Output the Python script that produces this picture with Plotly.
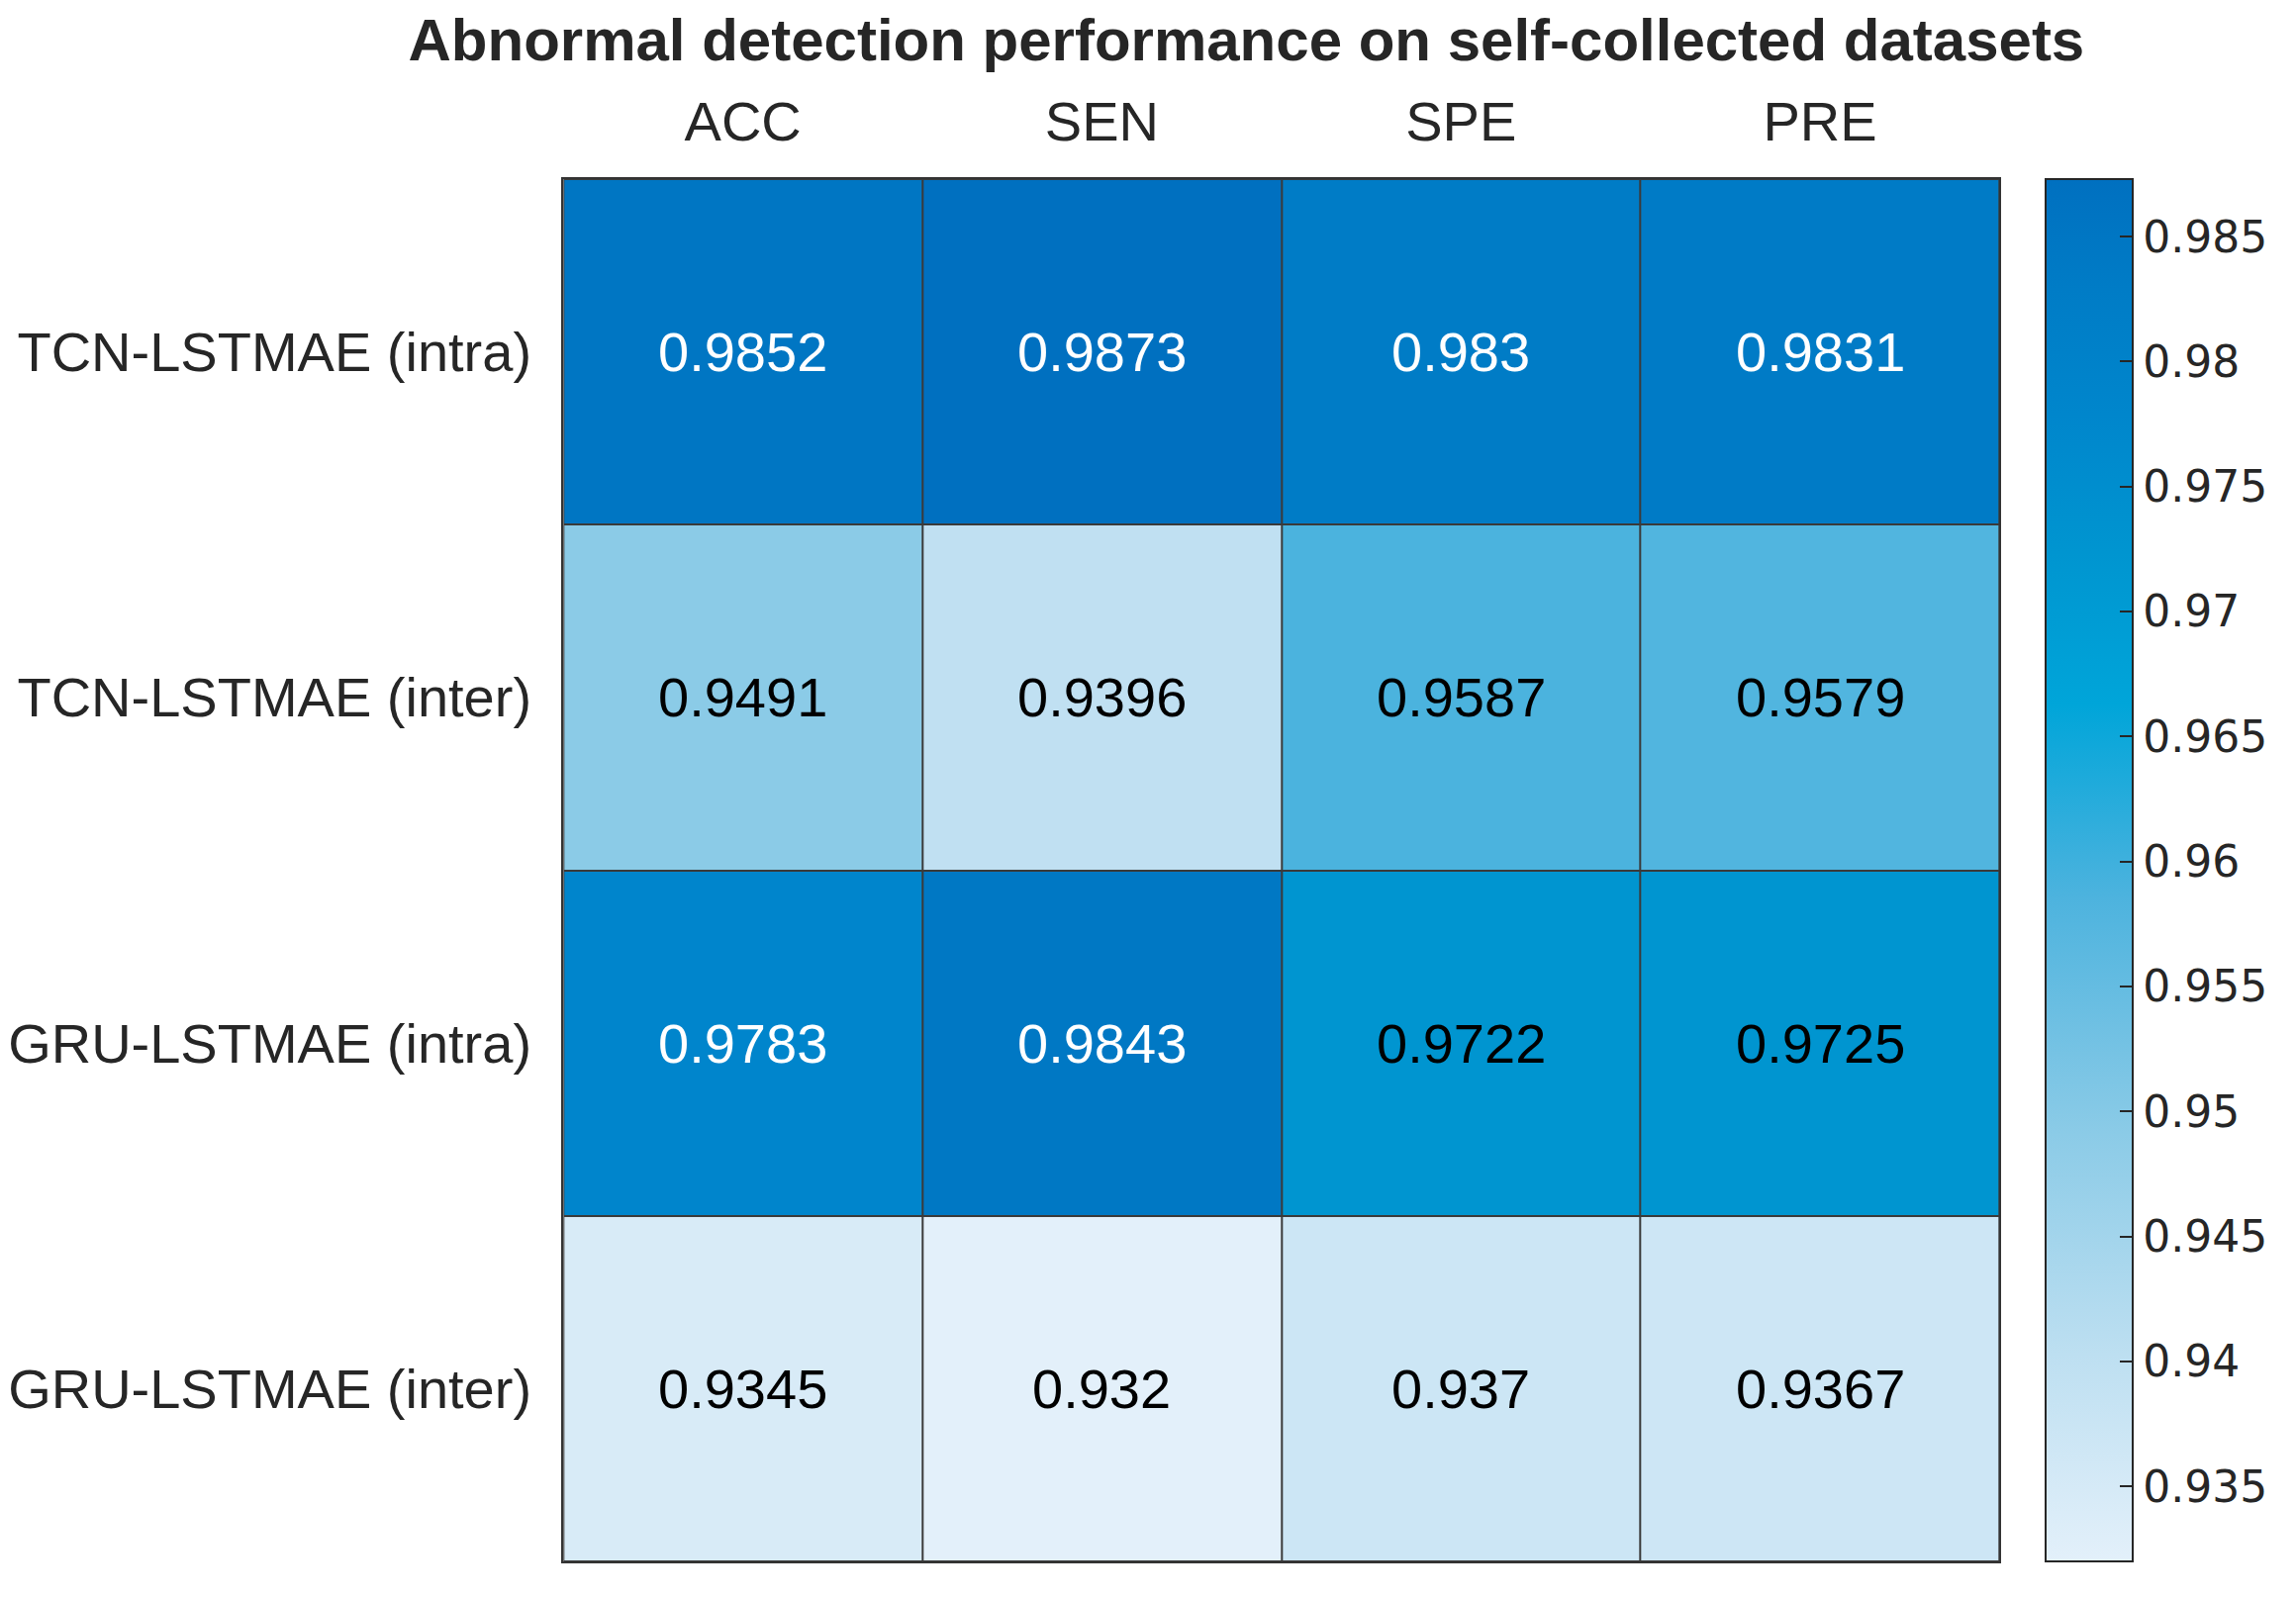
import plotly.graph_objects as go

metrics = ["ACC", "SEN", "SPE", "PRE"]
models = ["TCN-LSTMAE (intra)", "TCN-LSTMAE (inter)", "GRU-LSTMAE (intra)", "GRU-LSTMAE (inter)"]
values = [
    [0.9852, 0.9873, 0.9830, 0.9831],
    [0.9491, 0.9396, 0.9587, 0.9579],
    [0.9783, 0.9843, 0.9722, 0.9725],
    [0.9345, 0.9320, 0.9370, 0.9367],
]
cbar_ticks = [0.935, 0.94, 0.945, 0.95, 0.955, 0.96, 0.965, 0.97, 0.975, 0.98, 0.985]
cbar_labels = ["0.935", "0.94", "0.945", "0.95", "0.955", "0.96", "0.965", "0.97", "0.975", "0.98", "0.985"]
title = "Abnormal detection performance on self-collected datasets"

W, H = 2320, 1615
OFF = 8  # page body margin offset
zmin = min(min(r) for r in values)
zmax = max(max(r) for r in values)

colorscale = [
    [0.00, "#E3F0FA"],
    [0.15, "#BDDFF1"],
    [0.31, "#8BCBE7"],
    [0.48, "#4DB3DE"],
    [0.62, "#00A5D9"],
    [0.73, "#0095D0"],
    [0.83, "#0086CC"],
    [0.92, "#007CC6"],
    [1.00, "#0070C0"],
]

top, bottom = 181 - OFF, 1578 - OFF
left, right = 567 - OFF, 2020 - OFF

fig = go.Figure()
fig.add_trace(go.Heatmap(
    z=values, x=metrics, y=models,
    zmin=zmin, zmax=zmax,
    colorscale=colorscale,
    xgap=2, ygap=2,
    hoverongaps=False,
    colorbar=dict(
        thickness=88, thicknessmode="pixels",
        len=(bottom - top) / H, lenmode="fraction",
        x=(2067 - OFF) / W, xanchor="left",
        y=1 - (top + bottom) / 2 / H, yanchor="middle",
        xpad=0, ypad=0,
        outlinecolor="#262626", outlinewidth=2,
        tickmode="array", tickvals=cbar_ticks, ticktext=cbar_labels,
        ticks="inside", ticklen=14, tickwidth=2, tickcolor="#262626",
        tickfont=dict(family="DejaVu Sans", size=44, color="#262626"),
    ),
))

annotations = []
for i, m in enumerate(models):
    for j, k in enumerate(metrics):
        v = values[i][j]
        color = "white" if v > 0.975 else "black"
        annotations.append(dict(
            x=k, y=m, xref="x", yref="y", text=f"{v:g}", showarrow=False,
            font=dict(family="Liberation Sans", size=56, color=color),
        ))

fig.update_layout(
    width=W, height=H,
    margin=dict(l=0, r=0, t=0, b=0),
    paper_bgcolor="white",
    plot_bgcolor="#3a3a3a",
    annotations=annotations,
    title=dict(
        text=f"<b>{title}</b>",
        x=(1258 - OFF) / W, xanchor="center", xref="paper",
        y=1 - (40 - OFF) / H, yanchor="middle", yref="paper",
        font=dict(family="Liberation Sans", size=60, color="#262626"),
    ),
    xaxis=dict(
        domain=[left / W, right / W], side="top",
        showgrid=False, zeroline=False,
        showline=True, mirror=True, linecolor="#333333", linewidth=2,
        ticks="", ticklabelstandoff=15,
        tickfont=dict(family="Liberation Sans", size=56, color="#262626"),
    ),
    yaxis=dict(
        domain=[1 - bottom / H, 1 - top / H], autorange="reversed",
        showgrid=False, zeroline=False,
        showline=True, mirror=True, linecolor="#333333", linewidth=2,
        ticks="", ticklabelstandoff=19,
        tickfont=dict(family="Liberation Sans", size=56, color="#262626"),
    ),
)

fig.write_html("out.html")
